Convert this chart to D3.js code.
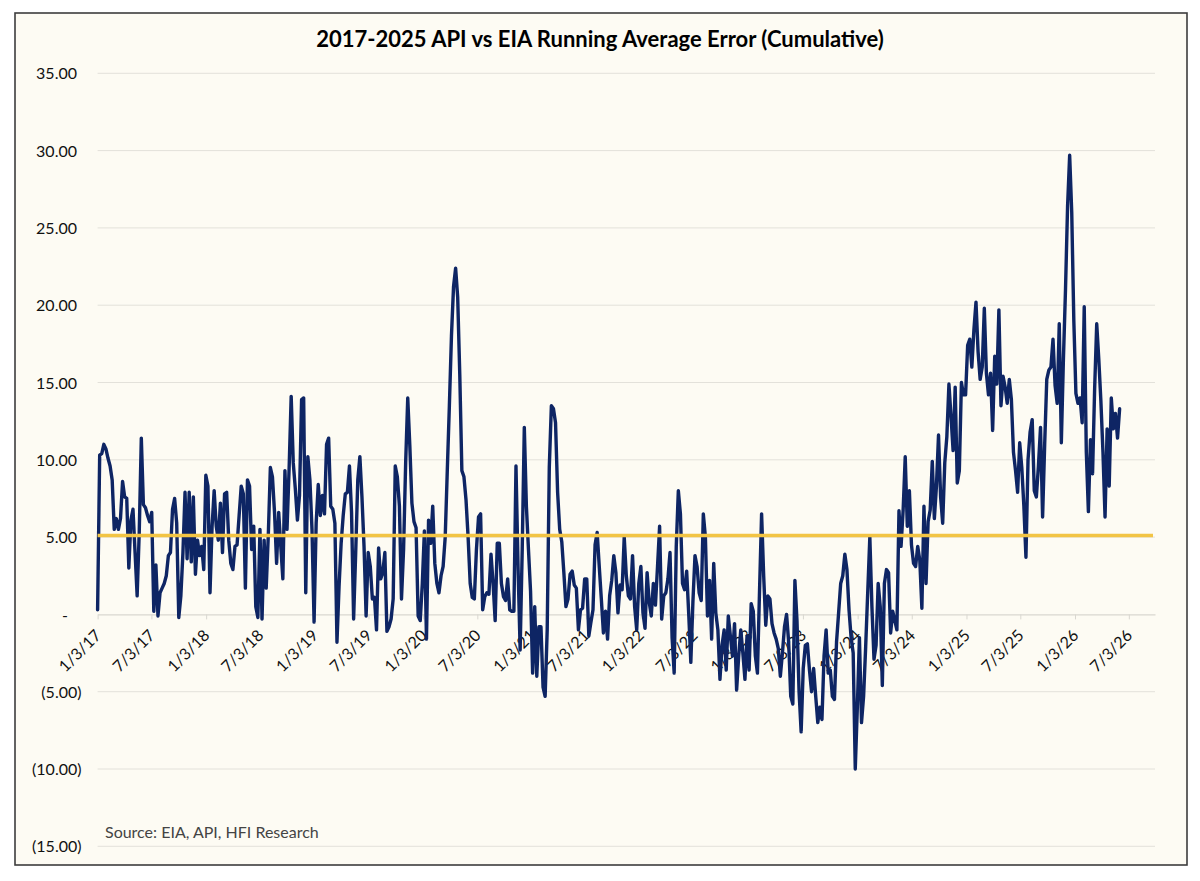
<!DOCTYPE html>
<html>
<head>
<meta charset="utf-8">
<script src="https://cdn.jsdelivr.net/npm/d3@7"></script>
<style>
  html, body { margin: 0; padding: 0; background: #ffffff; }
  svg { display: block; font-family: Lato, "Open Sans", "DejaVu Sans", sans-serif; }
</style>
</head>
<body>
<svg id="chart" width="1200" height="881"></svg>
<script>
// ---------------- DATA ----------------
const chartTitle = "2017-2025 API vs EIA Running Average Error (Cumulative)";
const sourceNote = "Source: EIA, API, HFI Research";
const startDate = "2017-01-03";          // first weekly observation
const axisEndDate = "2026-09-29";        // right end of the date axis
const xTickLabels = ["1/3/17","7/3/17","1/3/18","7/3/18","1/3/19","7/3/19","1/3/20","7/3/20",
  "1/3/21","7/3/21","1/3/22","7/3/22","1/3/23","7/3/23","1/3/24","7/3/24",
  "1/3/25","7/3/25","1/3/26","7/3/26"];
const yTicks = [35, 30, 25, 20, 15, 10, 5, 0, -5, -10, -15];
const averageLevel = 5.1;

// weekly running average error
const errorsPart1 = [0.3, 10.3, 10.4, 11.0, 10.7, 10.1, 9.6, 8.7, 5.5, 6.2, 5.5, 6.2, 8.6, 7.6, 7.5, 3.0,
  6.1, 6.8, 4.0, 1.2, 5.3, 11.4, 7.1, 6.9, 6.4, 6.0, 6.6, 0.2, 3.2, -0.1, 1.4, 1.7, 2.0, 2.5, 3.8, 4.0,
  6.8, 7.5, 5.9, -0.2, 1.2, 4.0, 7.9, 3.6, 7.9, 3.4, 7.6, 2.6, 4.8, 3.8, 4.4, 2.9, 9.0, 8.3, 1.4, 5.7,
  8.0, 5.7, 4.8, 7.2, 4.0, 7.8, 7.9, 4.8, 3.3, 2.9, 4.4, 4.5, 6.4, 8.3, 7.8, 1.7, 8.7, 8.3];
const errorsPart2 = [4.2, 5.7, 0.5, -0.2, 5.5, -0.3, 4.8, 1.7, 5.1,
  9.5, 8.9, 6.6, 3.3, 6.6, 4.4, 2.3, 9.3, 5.5,
  9.4, 14.1, 9.8, 8.1, 6.1, 7.7, 13.9, 14.0, 1.4, 10.2,
  8.7, 5.5, -0.5, 5.9, 8.4, 6.4, 7.7, 6.5, 11.0,
  11.4, 7.0, 6.8, 5.9, -1.8, 1.8, 4.6, 6.4, 7.8,
  7.9, 9.6, 6.6, -0.3, 4.0, 8.7, 10.2, 7.6, 4.4, -0.1,
  4.0, 3.1, 1.0, 1.1, -1.0, 4.3, 2.3, 2.7, 4.0,
  -1.1, -0.8, -0.3, 1.0, 9.6, 8.9, 7.0];
const errorsPart3 = [1.0, 4.2, 9.8, 14.0, 10.9, 7.2, 6.0, 5.6, -0.1, -0.4,
  2.0, 5.4, -1.6, 6.1, 4.6, 7.0, 3.3, 2.0, 1.4, 2.5,
  3.1, 5.0, 9.3, 13.5, 18.0, 21.2, 22.4, 20.5, 15.5, 9.3,
  8.9, 7.4, 5.0, 2.0, 1.1, 1.0, 4.2, 6.3, 6.5, 0.3,
  1.15, 1.4, 1.3, 3.9, 2.0, -0.4, 4.6, 4.6, 2.0, 1.15,
  0.9, 2.3, 0.3, 0.2, 0.2, 9.6, 3.0, -2.3, 4.2, 12.1,
  7.0, 4.2, 1.5, -3.8, 0.5, -4.0, -0.8, -0.8, -4.7, -5.3,
  -1.0, 9.5];
const errorsPart4 = [13.5, 13.3, 12.4, 7.9, 5.5, 4.7, 2.7, 0.5, 1.0, 2.6,
  2.8, 1.9, 1.7, -1.0, 0.3, 0.4, 2.3, 2.3, -1.4, -0.5,
  0.3, 4.5, 5.3, 3.1, 1.0, -1.2, 0.2, -1.6, 1.2, 2.2,
  3.8, 2.7, 0.1, 1.9, 1.6, 5.0, 2.5, 1.2, 1.0, 3.8,
  0.5, -1.0, 2.0, 3.1, 0.1, -0.9, 2.7, 0.8, -0.1, 2.0,
  0.6, 3.1, 5.7, -0.3, 1.2, 1.4, 2.3, 4.0, -1.5, -3.8,
  4.4, 8.0, 6.5, 2.0, 1.6, 2.8, 0.0, -3.1, 0.8, 3.8,
  3.1, 1.4];
const errorsPart5 = [0.9, 6.5, 5.0, -0.1, 2.2, -1.6, 3.3, 0.1, -1.0, -4.2,
  -2.0, -1.0, -3.6, -0.1, -1.4, -2.7, -0.6, -4.9, -2.7, -1.0,
  -2.5, -4.2, -1.4, -3.6, 0.7, 0.2, -2.7, -3.8, 1.5, 6.5,
  2.5, -0.7, 1.2, 1.0, -0.6, -1.2, -1.6, -2.2, -4.0, -2.5,
  -0.8, 0.0, -1.8, -5.3, -5.8, 2.2, -0.4, -5.0, -7.6, -3.5,
  -2.0, -1.9, -3.6, -5.0, -3.5, -5.3, -7.0, -6.0, -6.8, -2.7,
  -1.0, -3.8, -3.6, -5.3, -5.5, -1.8, 0.1, 2.0, 2.5, 3.9,
  2.9, 0.3];
const errorsPart6 = [-1.5, -2.5, -10.0, -6.0, -1.5, -7.0, -5.3, -2.1, 1.5, 5.0,
  0.5, -2.9, -2.0, 2.0, 0.5, -4.6, 2.0, 2.9, 2.7, -1.2,
  0.2, -0.4, -1.0, 6.7, 4.4, 6.75, 10.2, 5.7, 8.0, 4.5,
  3.3, 3.1, 4.4, 3.5, 0.4, 7.0, 2.0, 6.0, 6.75, 9.9,
  6.2, 8.3, 11.6, 7.6, 5.9, 9.8, 11.5, 14.9, 12.8, 10.6,
  14.7, 8.5, 9.3, 15.0, 14.2, 14.2, 17.4, 17.8, 16.0, 18.4,
  20.2, 17.0, 15.2, 16.0, 19.8, 15.6, 14.2, 15.6, 11.9, 16.7,
  14.9, 19.7];
const errorsPart7 = [13.5, 15.4, 14.7, 13.65, 15.2, 13.9, 10.5, 9.3, 7.9, 11.1,
  9.5, 7.0, 3.7, 10.0, 11.8, 12.6, 8.0, 7.6, 9.6, 12.1,
  6.3, 11.0, 15.2, 15.8, 16.0, 17.8, 14.8, 13.65, 18.8, 11.1,
  16.5, 21.0, 26.4, 29.7, 26.0, 19.0, 14.3, 13.65, 14.0, 12.4,
  19.9, 10.5, 6.65, 11.3, 9.1, 14.6, 18.8, 16.5, 13.8, 10.5,
  6.3, 12.0, 8.3, 14.0, 12.0, 13.0, 11.4, 13.3];

// ---------------- CHART ----------------
const svg = d3.select("#chart");
const W = 1200, H = 881;
const plot = { left: 97.6, right: 1155, top: 73.3, bottom: 846.3 };

const parseISO = d3.timeParse("%Y-%m-%d");
const parseLabel = d3.timeParse("%m/%d/%y");
const t0 = parseISO(startDate);

const values = [].concat(errorsPart1, errorsPart2, errorsPart3, errorsPart4,
                         errorsPart5, errorsPart6, errorsPart7);
const data = values.map((v, i) => ({ date: d3.timeDay.offset(t0, 7 * i), v }));

const x = d3.scaleTime()
  .domain([t0, parseISO(axisEndDate)])
  .range([plot.left, plot.right]);
const y = d3.scaleLinear()
  .domain([d3.min(yTicks), d3.max(yTicks)])
  .range([plot.bottom, plot.top]);

// frame
svg.append("rect").attr("x", 0).attr("y", 0).attr("width", W).attr("height", H).attr("fill", "#ffffff");
svg.append("rect")
  .attr("x", 15).attr("y", 13).attr("width", 1172).attr("height", 852)
  .attr("fill", "#FDFBF3").attr("stroke", "#3d3d3d").attr("stroke-width", 1.6);

// gridlines
svg.append("g").selectAll("line").data(yTicks.filter(t => t !== 0)).join("line")
  .attr("x1", plot.left).attr("x2", plot.right)
  .attr("y1", d => y(d)).attr("y2", d => y(d))
  .attr("stroke", "#E3E1DA").attr("stroke-width", 1);

// y labels (accounting format)
const fmtY = v => v === 0 ? "-" : (v < 0 ? "(" + Math.abs(v).toFixed(2) + ")" : v.toFixed(2));
const yAxis = svg.append("g")
  .call(d3.axisLeft(y).tickValues(yTicks).tickSize(0).tickFormat(fmtY));
yAxis.select(".domain").remove();
yAxis.selectAll(".tick text")
  .attr("x", d => d === 0 ? 65 : (d < 0 ? 81.5 : 77))
  .attr("text-anchor", d => d === 0 ? "middle" : "end")
  .attr("dy", "0.35em")
  .attr("fill", "#111")
  .style("font-size", "16px")
  .style("font-family", "Lato, 'Open Sans', sans-serif");

// x axis on zero line
const xTickDates = xTickLabels.map(s => parseLabel(s));
const xAxis = svg.append("g")
  .attr("transform", `translate(0,${y(0)})`)
  .call(d3.axisBottom(x).tickValues(xTickDates).tickSizeInner(5).tickSizeOuter(0)
        .tickFormat((d, i) => xTickLabels[i]));
xAxis.select(".domain").attr("stroke", "#D9D7D0").attr("stroke-width", 1.2);
xAxis.selectAll(".tick line").attr("stroke", "#D9D7D0");
xAxis.selectAll(".tick text")
  .attr("x", 0).attr("y", 0).attr("dy", 0)
  .attr("text-anchor", "end")
  .attr("transform", "translate(4,22) rotate(-45)")
  .attr("fill", "#111")
  .style("font-size", "16px")
  .style("font-family", "Lato, 'Open Sans', sans-serif");

// data line
const line = d3.line().x(d => x(d.date)).y(d => y(d.v));
svg.append("path").datum(data)
  .attr("d", line)
  .attr("fill", "none")
  .attr("stroke", "#0E2564")
  .attr("stroke-width", 3.4)
  .attr("stroke-linejoin", "round")
  .attr("stroke-linecap", "round");

// average level line
svg.append("line")
  .attr("x1", plot.left).attr("x2", plot.right - 2)
  .attr("y1", y(averageLevel)).attr("y2", y(averageLevel))
  .attr("stroke", "#F2C444").attr("stroke-width", 3.6);

// title
svg.append("text")
  .attr("x", 600).attr("y", 47)
  .attr("text-anchor", "middle")
  .style("font-family", "Lato, 'Open Sans', sans-serif")
  .style("font-weight", "bold")
  .style("font-size", "22px")
  .attr("fill", "#000")
  .text(chartTitle);

// source
svg.append("text")
  .attr("x", 105).attr("y", 838)
  .style("font-family", "Lato, 'Open Sans', sans-serif")
  .style("font-size", "16px")
  .attr("fill", "#444")
  .text(sourceNote);
</script>
</body>
</html>
